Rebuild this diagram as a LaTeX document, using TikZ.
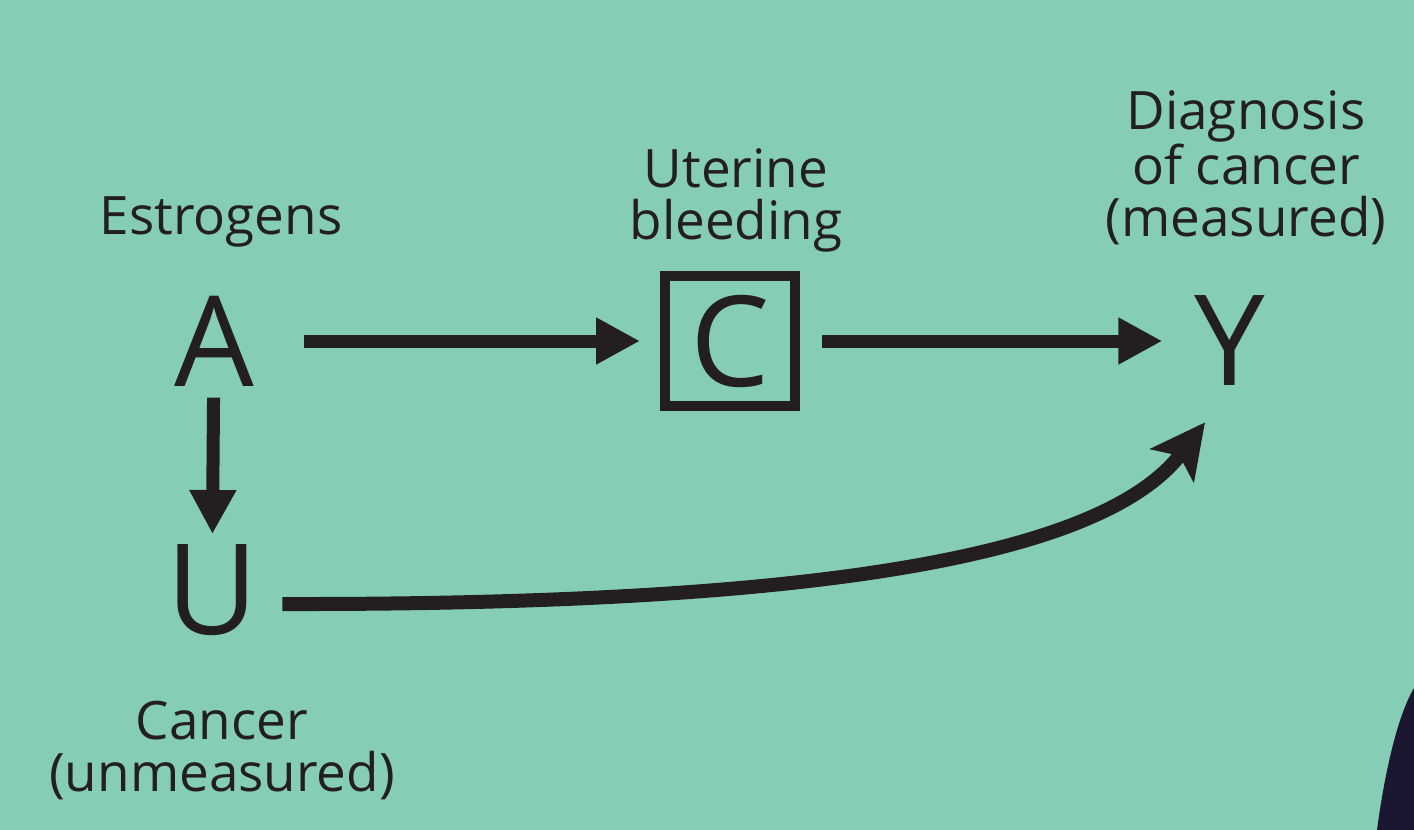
\documentclass[tikz,border=0pt]{standalone}
\usepackage{fontspec}
\setmainfont{Open Sans}
\usetikzlibrary{arrows.meta}
\definecolor{bg}{HTML}{86CDB6}
\definecolor{ink}{HTML}{231F20}
\definecolor{coat}{HTML}{1C1730}
\tikzset{
  big/.style={inner sep=0pt, text=ink, font=\fontsize{63}{70}\selectfont},
  lbl/.style={inner sep=0pt, text=ink, align=center, font=\fontsize{26.5}{26}\selectfont},
  arr/.style={draw=ink, line width=6.5pt, -{Triangle[length=22pt,width=22pt]}},
  carr/.style={draw=ink, line width=7pt, -{Stealth[length=27pt,width=27pt,inset=6pt]}}
}
\begin{document}
\begin{tikzpicture}[x=0.5pt,y=-0.5pt]
\fill[bg] (0,0) rectangle (1414,830);
\useasboundingbox (0,0) rectangle (1414,830);
\fill[coat] (1414,688) .. controls (1398,715) and (1385,770) .. (1377,830) -- (1414,830) -- cycle;

\node[lbl] (estr) at (221,222) {Estrogens};
\node[lbl] (bleed) at (736,200) {Uterine\\bleeding};
\node[lbl] (diag) at (1246,168) {Diagnosis\\of cancer\\(measured)};
\node[lbl] (canc) at (222,750) {Cancer\\(unmeasured)};

\node[big] (A) at (214,341) {A};
\node[big, draw=ink, line width=5pt, minimum width=65pt, minimum height=65pt] (C) at (730,341) {C};
\node[big] (Y) at (1230,341) {Y};
\node[big] (U) at (212,590) {U};

\draw[arr, shorten <=25pt, shorten >=10pt] (A) -- (C);
\draw[arr, shorten <=11pt, shorten >=16pt] (C) -- (Y);
\draw[arr, shorten <=5.5pt, shorten >=5pt] (A) -- (U);
\draw[carr] ([xshift=12pt,yshift=-7pt]U.east) .. controls (800,605) and (1100,560) .. ([xshift=-12.5pt,yshift=-18pt]Y.south);
\end{tikzpicture}
\end{document}
